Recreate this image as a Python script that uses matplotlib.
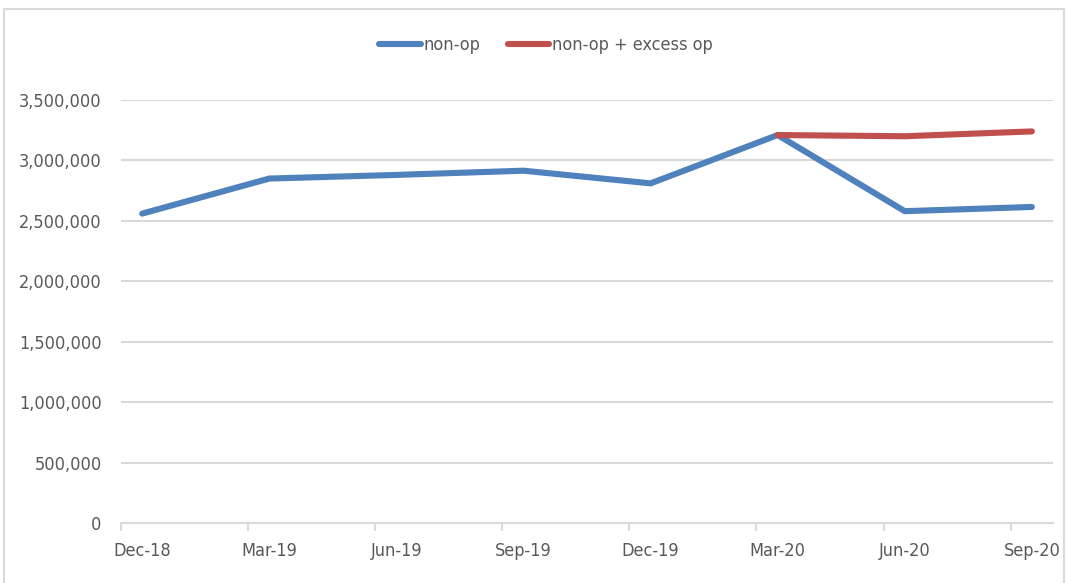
import matplotlib.pyplot as plt
from matplotlib.patches import Rectangle
from matplotlib.ticker import FuncFormatter

# quarters (data points sit mid-month on a monthly date axis)
quarters = ['Dec-18', 'Mar-19', 'Jun-19', 'Sep-19', 'Dec-19', 'Mar-20', 'Jun-20', 'Sep-20']
month_idx = [0, 3, 6, 9, 12, 15, 18, 21]
non_op = [2560000, 2850000, 2880000, 2915000, 2810000, 3210000, 2580000, 2615000]
excess_quarters = ['Mar-20', 'Jun-20', 'Sep-20']
non_op_excess = [3210000, 3200000, 3240000]

plt.rcParams['font.family'] = ['DejaVu Sans']
plt.rcParams['font.stretch'] = 'condensed'

fig = plt.figure(figsize=(10.67, 5.83), dpi=100, facecolor='w')
ax = fig.add_axes([0.1134, 0.1029, 0.8735, 0.7256])

# chart-area border
fig.patches.append(Rectangle((0.004, -0.01), 0.993, 0.995, transform=fig.transFigure,
                             fill=False, edgecolor='#D9D9D9', linewidth=1.5))

x_blue = [m + 0.5 for m in month_idx]
x_red = [month_idx[quarters.index(q)] + 0.5 for q in excess_quarters]

ax.plot(x_blue, non_op, color='#4F81BD', linewidth=4.4, solid_capstyle='round',
        solid_joinstyle='round', label='non-op')
ax.plot(x_red, non_op_excess, color='#C0504D', linewidth=4.4, solid_capstyle='round',
        solid_joinstyle='round', label='non-op + excess op')

ax.set_xlim(0, 22)
ax.set_ylim(0, 3500000)
ax.set_yticks(range(0, 3500001, 500000))
ax.yaxis.set_major_formatter(FuncFormatter(lambda v, p: f'{int(v):,}'))
ax.grid(axis='y', color='#D9D9D9', linewidth=1.5)
ax.set_axisbelow(True)

# labels under data points, tick marks at month boundaries
ax.set_xticks(x_blue)
ax.set_xticklabels(quarters)
ax.set_xticks(month_idx, minor=True)
ax.tick_params(axis='x', which='major', length=0, pad=14, labelsize=13, labelcolor='#595959')
ax.tick_params(axis='x', which='minor', length=6, color='#D9D9D9', width=1.5)
ax.tick_params(axis='y', length=0, pad=14, labelsize=13, labelcolor='#595959')

for s in ['top', 'right', 'left']:
    ax.spines[s].set_visible(False)
ax.spines['bottom'].set_color('#D9D9D9')
ax.spines['bottom'].set_linewidth(1.5)

leg = ax.legend(loc='center', bbox_to_anchor=(0.456, 1.13), ncol=2, frameon=False,
                fontsize=13, handlelength=2.3, handletextpad=0.15, columnspacing=1.5)
for t in leg.get_texts():
    t.set_color('#595959')

fig.savefig('out.png', dpi=100)
